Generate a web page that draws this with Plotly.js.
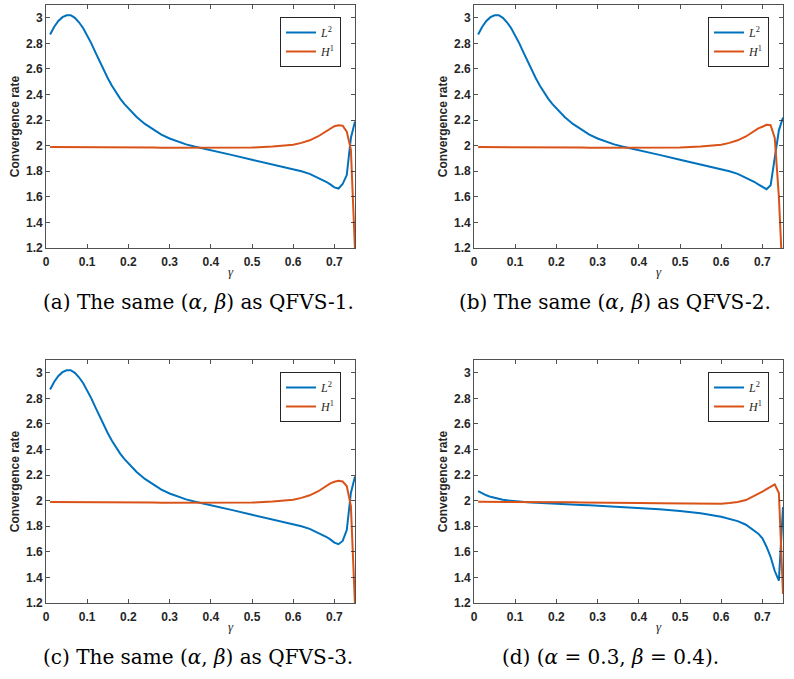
<!DOCTYPE html>
<html>
<head>
<meta charset="utf-8">
<script src="https://cdn.plot.ly/plotly-3.0.1.min.js"></script>
<style>html,body{margin:0;padding:0;background:#fff;}#chart{width:794px;height:679px;}</style>
</head>
<body>
<div id="chart"></div>
<script>
// gamma grid
var gamma = [0.01,0.02,0.03,0.04,0.05,0.06,0.07,0.08,0.09,0.10,0.11,0.12,0.13,0.14,0.15,0.16,0.17,0.18,0.19,0.20,
  0.22,0.24,0.26,0.28,0.30,0.32,0.34,0.36,0.38,0.40,0.45,0.50,0.55,0.60,0.62,0.64,0.66,0.68,0.69,0.70,0.71,0.72,0.73,0.74,0.75];

// (a) QFVS-1
var L2_a = [2.87,2.93,2.975,3.005,3.02,3.02,3.0,2.965,2.92,2.865,2.80,2.73,2.658,2.59,2.527,2.468,2.415,2.368,2.327,2.29,
  2.225,2.17,2.125,2.087,2.056,2.03,2.01,1.993,1.979,1.966,1.928,1.89,1.855,1.818,1.80,1.78,1.752,1.718,1.697,1.674,1.665,1.70,1.77,2.06,2.19];
var H1_a = [1.99,1.99,1.99,1.99,1.99,1.989,1.989,1.989,1.989,1.989,1.988,1.988,1.988,1.988,1.987,1.987,1.987,1.987,1.986,1.986,
  1.986,1.985,1.985,1.984,1.984,1.983,1.983,1.982,1.982,1.981,1.981,1.985,1.994,2.008,2.022,2.042,2.072,2.112,2.135,2.152,2.16,2.157,2.11,1.97,1.18];

// (b) QFVS-2
var L2_b = [2.87,2.93,2.975,3.005,3.02,3.02,3.0,2.965,2.92,2.865,2.80,2.73,2.658,2.59,2.527,2.468,2.415,2.368,2.327,2.29,
  2.225,2.17,2.125,2.087,2.056,2.03,2.01,1.993,1.979,1.966,1.928,1.89,1.855,1.818,1.80,1.78,1.752,1.718,1.697,1.675,1.66,1.69,1.92,2.12,2.22];
var H1_b = [1.99,1.99,1.99,1.99,1.99,1.989,1.989,1.989,1.989,1.989,1.988,1.988,1.988,1.988,1.987,1.987,1.987,1.987,1.986,1.986,
  1.986,1.985,1.985,1.984,1.984,1.983,1.983,1.982,1.982,1.981,1.981,1.985,1.994,2.008,2.022,2.042,2.072,2.112,2.135,2.148,2.163,2.16,2.06,1.6,0.9];

// (c) QFVS-3
var L2_c = [2.87,2.93,2.975,3.005,3.02,3.02,3.0,2.965,2.92,2.865,2.80,2.73,2.658,2.59,2.527,2.468,2.415,2.368,2.327,2.29,
  2.225,2.17,2.125,2.087,2.056,2.03,2.01,1.993,1.979,1.966,1.928,1.89,1.855,1.818,1.80,1.78,1.752,1.718,1.697,1.672,1.66,1.685,1.77,2.06,2.19];
var H1_c = [1.99,1.99,1.99,1.99,1.99,1.989,1.989,1.989,1.989,1.989,1.988,1.988,1.988,1.988,1.987,1.987,1.987,1.987,1.986,1.986,
  1.986,1.985,1.985,1.984,1.984,1.983,1.983,1.982,1.982,1.981,1.981,1.985,1.994,2.008,2.022,2.042,2.072,2.112,2.135,2.148,2.155,2.15,2.115,1.96,1.18];

// (d) alpha=0.3, beta=0.4
var L2_d = [2.075,2.057,2.042,2.03,2.021,2.014,2.008,2.003,1.999,1.995,1.992,1.99,1.988,1.986,1.984,1.982,1.98,1.979,1.977,1.976,
  1.973,1.97,1.967,1.964,1.961,1.958,1.955,1.951,1.948,1.944,1.933,1.92,1.902,1.875,1.86,1.84,1.812,1.77,1.742,1.705,1.64,1.56,1.45,1.375,1.95];
var H1_d = [1.992,1.992,1.992,1.991,1.991,1.991,1.991,1.990,1.990,1.990,1.990,1.990,1.989,1.989,1.989,1.989,1.988,1.988,1.988,1.988,
  1.987,1.987,1.986,1.986,1.985,1.984,1.984,1.983,1.982,1.982,1.980,1.978,1.976,1.977,1.981,1.99,2.005,2.035,2.05,2.07,2.09,2.11,2.128,2.06,1.27];

var xTickVals = [0,0.1,0.2,0.3,0.4,0.5,0.6,0.7];
var xTickText = ['0','0.1','0.2','0.3','0.4','0.5','0.6','0.7'];
var yTickVals = [1.2,1.4,1.6,1.8,2,2.2,2.4,2.6,2.8,3];
var yTickText = ['1.2','1.4','1.6','1.8','2','2.2','2.4','2.6','2.8','3'];
var seriesNames = ['<i>L</i><sup>2</sup>','<i>H</i><sup>1</sup>'];
var captions = ['(a) The same (<i>α</i>, <i>β</i>) as QFVS-1.',
                '(b) The same (<i>α</i>, <i>β</i>) as QFVS-2.',
                '(c) The same (<i>α</i>, <i>β</i>) as QFVS-3.',
                '(d) (<i>α</i> = 0.3, <i>β</i> = 0.4).'];

var W = 794, H = 679;
var panels = [
  {L2: L2_a, H1: H1_a, x0: 46,  x1: 355, y0: 5,   y1: 248, cx: 198, cy: 302},
  {L2: L2_b, H1: H1_b, x0: 474, x1: 783, y0: 5,   y1: 248, cx: 615, cy: 302},
  {L2: L2_c, H1: H1_c, x0: 46,  x1: 355, y0: 360, y1: 603, cx: 198, cy: 657},
  {L2: L2_d, H1: H1_d, x0: 474, x1: 783, y0: 360, y1: 603, cx: 610, cy: 657}
];
var blue = '#0072BD', orange = '#D95319', axc = '#262626';
var traces = [], annotations = [];
var layout = {
  width: W, height: H, margin: {l:0, r:0, t:0, b:0},
  paper_bgcolor: '#fff', plot_bgcolor: '#fff', showlegend: true
};
var tickFont = {family: 'Liberation Sans, Arial, sans-serif', size: 12, color: axc, weight: 'bold'};
panels.forEach(function(p, i) {
  var n = i === 0 ? '' : String(i + 1);
  var leg = i === 0 ? 'legend' : 'legend' + (i + 1);
  traces.push({x: gamma, y: p.L2, type: 'scatter', mode: 'lines', name: seriesNames[0],
    line: {color: blue, width: 2}, xaxis: 'x' + n, yaxis: 'y' + n, legend: leg});
  traces.push({x: gamma, y: p.H1, type: 'scatter', mode: 'lines', name: seriesNames[1],
    line: {color: orange, width: 2}, xaxis: 'x' + n, yaxis: 'y' + n, legend: leg});
  layout['xaxis' + n] = {
    domain: [p.x0 / W, p.x1 / W], anchor: 'y' + n, range: [0, 0.75],
    tickvals: xTickVals, ticktext: xTickText, ticks: 'inside', ticklen: 4, tickwidth: 0.8, tickcolor: axc,
    showline: true, linecolor: axc, linewidth: 0.8, mirror: 'ticks', showgrid: false, zeroline: false,
    tickfont: tickFont, ticklabelstandoff: 3
  };
  layout['yaxis' + n] = {
    domain: [1 - p.y1 / H, 1 - p.y0 / H], anchor: 'x' + n, range: [1.2, 3.1],
    tickvals: yTickVals, ticktext: yTickText, ticks: 'inside', ticklen: 4, tickwidth: 0.8, tickcolor: axc,
    showline: true, linecolor: axc, linewidth: 0.8, mirror: 'ticks', showgrid: false, zeroline: false,
    tickfont: tickFont,
    title: {text: 'Convergence rate', font: {family: 'Liberation Sans, Arial, sans-serif', size: 12, color: axc, weight: 'bold'}, standoff: 3}
  };
  layout[leg] = {
    x: (p.x1 - 14) / W, xanchor: 'right', y: 1 - (p.y0 + 12) / H, yanchor: 'top',
    bgcolor: '#fff', bordercolor: axc, borderwidth: 1, itemwidth: 30, tracegroupgap: 0,
    font: {family: 'Liberation Serif, serif', size: 12, color: axc}
  };
  annotations.push({text: '<i>γ</i>', xref: 'x' + n, yref: 'paper', x: 0.45, y: 1 - (p.y1 + 23) / H,
    xanchor: 'center', yanchor: 'middle', showarrow: false,
    font: {family: 'Liberation Serif, serif', size: 13, color: axc}});
  annotations.push({text: captions[i], xref: 'paper', yref: 'paper',
    x: p.cx / W, y: 1 - p.cy / H,
    xanchor: 'center', yanchor: 'middle', showarrow: false,
    font: {family: 'DejaVu Serif, serif', size: 20, color: '#000'}});
});
layout.annotations = annotations;
Plotly.newPlot('chart', traces, layout, {displayModeBar: false, staticPlot: true});
</script>
</body>
</html>
